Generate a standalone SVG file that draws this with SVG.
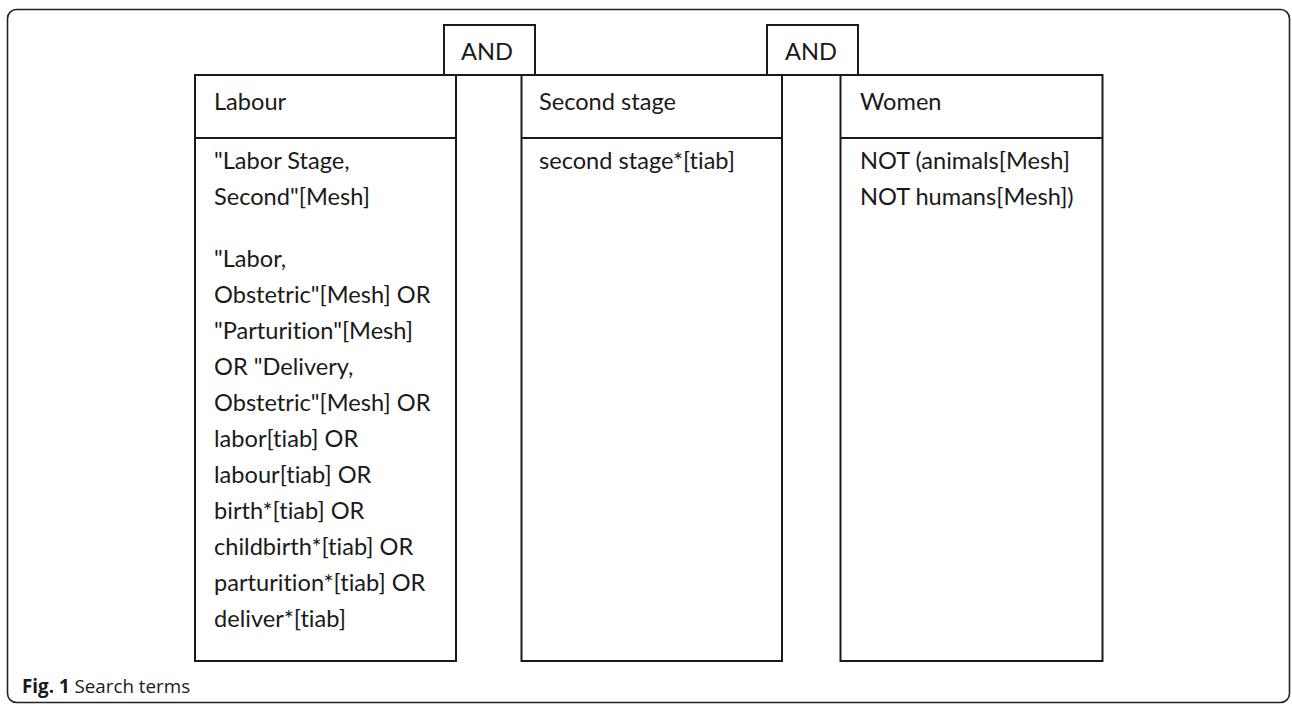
<svg xmlns="http://www.w3.org/2000/svg" width="1292" height="706" viewBox="0 0 1292 706">
<style>
.box{fill:#ffffff;stroke:#1a1a1a;stroke-width:2}
.t{font-family:Lato,"Liberation Sans",sans-serif;font-size:23.6px;fill:#1a1a1a;font-variant-ligatures:none}
.cap{font-family:"Open Sans","Liberation Sans",sans-serif;font-size:18.8px;fill:#1a1a1a}
</style>
<rect x="0" y="0" width="1292" height="706" fill="#ffffff"/>
<rect x="7.5" y="9.5" width="1282" height="693" rx="9" fill="none" stroke="#222222" stroke-width="1.6"/>
<g id="connectors"></g>
<g id="labour">
<rect class="box" x="195" y="75" width="261" height="586"/>
<line x1="195" y1="138" x2="456" y2="138" stroke="#1a1a1a" stroke-width="2"/>
<text class="t" x="214" y="110">Labour</text>
<text class="t" x="214" y="169">"Labor Stage,</text>
<text class="t" x="214" y="205">Second"[Mesh]</text>
<text class="t" x="214" y="266.7">"Labor,</text>
<text class="t" x="214" y="302.7">Obstetric"[Mesh] OR</text>
<text class="t" x="214" y="338.7">"Parturition"[Mesh]</text>
<text class="t" x="214" y="374.7">OR "Delivery,</text>
<text class="t" x="214" y="410.7">Obstetric"[Mesh] OR</text>
<text class="t" x="214" y="446.7">labor[tiab] OR</text>
<text class="t" x="214" y="482.7">labour[tiab] OR</text>
<text class="t" x="214" y="518.7">birth*[tiab] OR</text>
<text class="t" x="214" y="554.7">childbirth*[tiab] OR</text>
<text class="t" x="214" y="590.7">parturition*[tiab] OR</text>
<text class="t" x="214" y="626.7">deliver*[tiab]</text>
</g>
<g id="second-stage">
<rect class="box" x="521.5" y="75" width="260.5" height="586"/>
<line x1="521.5" y1="138" x2="782" y2="138" stroke="#1a1a1a" stroke-width="2"/>
<text class="t" x="539" y="110">Second stage</text>
<text class="t" x="539" y="169">second stage*[tiab]</text>
</g>
<g id="women">
<rect class="box" x="840.5" y="75" width="262" height="586"/>
<line x1="840.5" y1="138" x2="1102.5" y2="138" stroke="#1a1a1a" stroke-width="2"/>
<text class="t" x="860" y="110">Women</text>
<text class="t" x="860" y="169">NOT (animals[Mesh]</text>
<text class="t" x="860" y="205">NOT humans[Mesh])</text>
</g>
<g id="and1">
<rect class="box" x="444" y="25" width="91" height="50"/>
<text class="t" x="487" y="60" text-anchor="middle">AND</text>
</g>
<g id="and2">
<rect class="box" x="767" y="25" width="91" height="50"/>
<text class="t" x="811" y="60" text-anchor="middle">AND</text>
</g>
<g id="caption">
<text class="cap" x="22" y="693"><tspan font-weight="bold">Fig. 1</tspan> Search terms</text>
</g>
</svg>
